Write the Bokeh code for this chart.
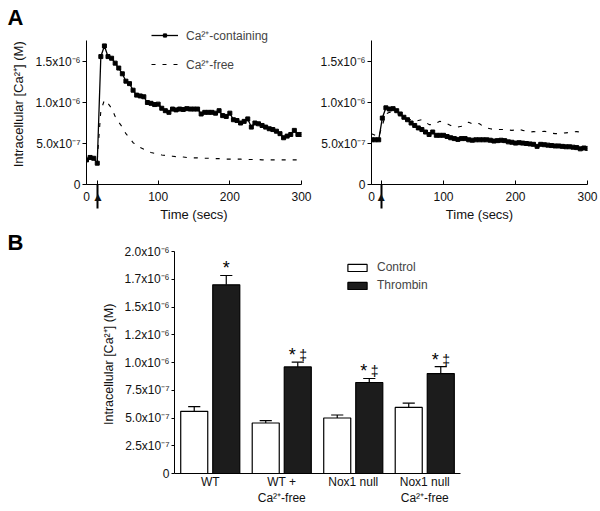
from bokeh.plotting import figure
from bokeh.models import ColumnDataSource, FixedTicker, Legend, LegendItem
from bokeh.layouts import column, row
from bokeh.embed import file_html
from bokeh.resources import INLINE

FONT = "Liberation Sans"

# ---------------- data (concentrations in units of 1e-6 M) ----------------
time_s = list(range(0, 301, 5))

wt_ca_containing = [0.30, 0.33, 0.32, 0.26, 1.56, 1.69, 1.56, 1.54, 1.48, 1.42,
                    1.35, 1.26, 1.23, 1.15, 1.09, 1.08, 1.07, 1.00, 0.99, 0.975,
                    0.98, 0.93, 0.90, 0.88, 0.92, 0.91, 0.92, 0.915, 0.925, 0.92,
                    0.92, 0.92, 0.86, 0.88, 0.88, 0.88, 0.87, 0.90, 0.84, 0.83,
                    0.87, 0.79, 0.78, 0.75, 0.77, 0.80, 0.70, 0.75, 0.74, 0.72,
                    0.70, 0.68, 0.67, 0.65, 0.62, 0.57, 0.59, 0.61, 0.66, 0.61,
                    0.61]
wt_ca_free = [0.30, 0.31, 0.31, 0.30, 0.90, 1.03, 0.99, 0.93, 0.83, 0.76,
              0.70, 0.62, 0.57, 0.51, 0.48, 0.45, 0.43, 0.41, 0.39, 0.38,
              0.37, 0.36, 0.355, 0.35, 0.345, 0.34, 0.34, 0.335, 0.33, 0.33,
              0.325, 0.325, 0.32, 0.32, 0.32, 0.315, 0.315, 0.315, 0.31, 0.31,
              0.31, 0.31, 0.31, 0.31, 0.305, 0.305, 0.305, 0.305, 0.305, 0.30,
              0.30, 0.30, 0.30, 0.30, 0.30, 0.30, 0.30, 0.30, 0.30, 0.30,
              0.30]
nox_ca_containing = [0.545, 0.545, 0.545, 0.81, 0.935, 0.92, 0.925, 0.90, 0.86, 0.82,
                     0.79, 0.75, 0.72, 0.69, 0.67, 0.64, 0.61, 0.64, 0.60, 0.60,
                     0.60, 0.585, 0.57, 0.56, 0.55, 0.56, 0.56, 0.545, 0.54, 0.545,
                     0.545, 0.545, 0.545, 0.54, 0.53, 0.535, 0.54, 0.535, 0.52, 0.515,
                     0.505, 0.51, 0.505, 0.50, 0.495, 0.49, 0.465, 0.49, 0.485, 0.48,
                     0.475, 0.47, 0.47, 0.465, 0.46, 0.46, 0.455, 0.45, 0.435, 0.445,
                     0.44]
nox_ca_free = [0.62, 0.60, 0.58, 0.72, 0.86, 0.88, 0.88, 0.87, 0.84, 0.82,
               0.80, 0.79, 0.77, 0.78, 0.79, 0.76, 0.73, 0.73, 0.75, 0.77,
               0.75, 0.74, 0.72, 0.70, 0.70, 0.71, 0.74, 0.76, 0.74, 0.75,
               0.74, 0.71, 0.69, 0.68, 0.67, 0.67, 0.67, 0.67, 0.665, 0.66,
               0.665, 0.675, 0.66, 0.65, 0.64, 0.645, 0.64, 0.645, 0.65, 0.64,
               0.625, 0.62, 0.62, 0.625, 0.63, 0.635, 0.64, 0.645, 0.64]
stim_time_left = 16     # thrombin addition (arrow)
stim_time_right = 13.5

top_ticks = [0, 0.5, 1.0, 1.5]
top_tick_labels = ["0", "5.0x10⁻⁷", "1.0x10⁻⁶", "1.5x10⁻⁶"]
time_ticks = [0, 100, 200, 300]

groups = ["WT", "WT +\nCa²⁺-free", "Nox1 null", "Nox1 null\nCa²⁺-free"]
control_mean = [0.56, 0.455, 0.50, 0.595]
control_sem = [0.042, 0.021, 0.027, 0.039]
thrombin_mean = [1.70, 0.96, 0.82, 0.90]
thrombin_sem = [0.084, 0.043, 0.036, 0.063]
star_marks = ["*", "*", "*", "*"]
dagger_marks = ["", "‡", "‡", "‡"]

bar_ticks = [0, 0.25, 0.5, 0.75, 1.0, 1.25, 1.5, 1.75, 2.0]
bar_tick_labels = ["0", "2.5x10⁻⁷", "5.0x10⁻⁷", "7.5x10⁻⁷", "1.0x10⁻⁶",
                   "1.2x10⁻⁶", "1.5x10⁻⁶", "1.7x10⁻⁶", "2.0x10⁻⁶"]


def base_style(p):
    p.outline_line_color = None
    p.grid.grid_line_color = None
    p.background_fill_color = "white"
    p.border_fill_color = "white"
    for ax in p.axis:
        ax.axis_line_color = "black"
        ax.axis_line_width = 1
        ax.major_tick_line_color = "black"
        ax.minor_tick_line_color = None
        ax.major_label_text_font = FONT
        ax.major_label_text_font_size = "12px"
        ax.major_label_text_color = "#111111"
        ax.axis_label_text_font = FONT
        ax.axis_label_text_font_size = "13px"
        ax.axis_label_text_font_style = "normal"
        ax.axis_label_text_color = "#111111"


def panel_letter(p, letter, offset, standoff):
    p.title.text = letter
    p.title.align = "left"
    p.title.offset = offset
    p.title.standoff = standoff
    p.title.vertical_align = "bottom"
    p.title.text_font = FONT
    p.title.text_font_size = "22px"
    p.title.text_font_style = "bold"
    p.title.text_color = "black"


def time_panel(width, left, right, solid, dashed, stim, ylabel):
    p = figure(width=width, height=226, x_range=(0, 300), y_range=(0, 2.0),
               output_backend="svg", toolbar_location=None,
               min_border_left=left, min_border_right=right,
               min_border_top=20, min_border_bottom=42)
    base_style(p)
    xa = p.xaxis[0]
    # stimulus arrow: shaft = long minor tick, head = "▲" tick label
    xa.ticker = FixedTicker(ticks=time_ticks + [stim], minor_ticks=[stim])
    xa.major_label_overrides = {stim: "▲"}
    xa.major_tick_in = 4
    xa.major_tick_out = 0
    xa.minor_tick_in = 0
    xa.minor_tick_out = 24
    xa.minor_tick_line_color = "black"
    xa.minor_tick_line_width = 2
    xa.major_label_standoff = -19
    xa.axis_label = "Time (secs)"
    xa.axis_label_standoff = 0
    ya = p.yaxis[0]
    ya.ticker = FixedTicker(ticks=top_ticks)
    ya.major_label_overrides = dict(zip(top_ticks, top_tick_labels))
    ya.major_tick_in = 0
    ya.major_tick_out = 4
    ya.major_label_standoff = 2
    ya.bounds = (0, 1.76)
    if ylabel:
        ya.axis_label = ylabel
        ya.axis_label_standoff = 7

    src_s = ColumnDataSource(dict(t=time_s[:len(solid)], v=solid))
    src_d = ColumnDataSource(dict(t=time_s[:len(dashed)], v=dashed))
    r_dash = p.line("t", "v", source=src_d, line_color="black", line_width=1.1,
                    line_dash="4 7")
    r_line = p.line("t", "v", source=src_s, line_color="black", line_width=1.3)
    r_pts = p.scatter("t", "v", source=src_s, marker="square", size=4,
                      fill_color="black", line_color="black")
    return p, r_line, r_pts, r_dash


p1, l1, s1, d1 = time_panel(313, 86, 12, wt_ca_containing, wt_ca_free,
                            stim_time_left, "Intracellular [Ca²⁺]  (M)")
p2, l2, s2, d2 = time_panel(287, 58, 13, nox_ca_containing, nox_ca_free,
                            stim_time_right, None)
panel_letter(p1, "A", -79, -19)

leg1 = Legend(items=[LegendItem(label="Ca²⁺-containing", renderers=[l1, s1]),
                     LegendItem(label="Ca²⁺-free", renderers=[d1])],
              location=(65, 110), orientation="vertical",
              glyph_width=27, glyph_height=8, label_height=20, spacing=9,
              padding=0, margin=0, label_standoff=8,
              label_text_font=FONT, label_text_font_size="12px",
              border_line_color=None, background_fill_alpha=0)
p1.add_layout(leg1)

# ---------------- bar chart ----------------
n = len(groups)
centers = [i + 0.5 for i in range(n)]
off = 0.224
bw = 0.378
ctrl = ColumnDataSource(dict(x=[c - off for c in centers], top=control_mean,
                             err=[m + s for m, s in zip(control_mean, control_sem)]))
thr = ColumnDataSource(dict(x=[c + off for c in centers], top=thrombin_mean,
                            err=[m + s for m, s in zip(thrombin_mean, thrombin_sem)]))

p3 = figure(width=600, height=285, x_range=(0, 4), y_range=(0, 2.0),
            output_backend="svg", toolbar_location=None,
            min_border_left=174, min_border_right=140,
            min_border_top=25, min_border_bottom=38)
base_style(p3)
panel_letter(p3, "B", -167, -7)
xa = p3.xaxis[0]
xa.ticker = FixedTicker(ticks=centers)
xa.major_label_overrides = dict(zip(centers, groups))
xa.major_tick_in = 0
xa.major_tick_out = 0
xa.major_label_standoff = 1
ya = p3.yaxis[0]
ya.ticker = FixedTicker(ticks=bar_ticks)
ya.major_label_overrides = dict(zip(bar_ticks, bar_tick_labels))
ya.major_tick_in = 0
ya.major_tick_out = 3
ya.major_label_standoff = 2
ya.axis_label = "Intracellular [Ca²⁺]  (M)"
ya.axis_label_standoff = 6
ya.axis_label_text_font_size = "12.5px"

cap = 0.085
for src in (ctrl, thr):
    p3.segment(x0="x", y0="top", x1="x", y1="err", source=src,
               line_color="black", line_width=1.2)
    xs = src.data["x"]
    cap_src = ColumnDataSource(dict(x0=[x - cap for x in xs], x1=[x + cap for x in xs],
                                    y=src.data["err"]))
    p3.segment(x0="x0", y0="y", x1="x1", y1="y", source=cap_src,
               line_color="black", line_width=1.2)

r_ctrl = p3.vbar(x="x", top="top", bottom=0, width=bw, source=ctrl,
                 fill_color="white", line_color="black", line_width=1.2)
r_thr = p3.vbar(x="x", top="top", bottom=0, width=bw, source=thr,
                fill_color="#1c1c1c", line_color="black", line_width=1.2)

ann = ColumnDataSource(dict(x=thr.data["x"], y=thr.data["err"],
                            star=star_marks, dag=dagger_marks,
                            sx=[0 if d == "" else -5.5 for d in dagger_marks]))
p3.text(x="x", y="y", text="star", source=ann, x_offset="sx", y_offset=-7,
        text_align="center", text_baseline="alphabetic",
        text_font=dict(value=FONT), text_font_size="18px", text_color="black")
p3.text(x="x", y="y", text="dag", source=ann, x_offset=5.5, y_offset=-7,
        text_align="center", text_baseline="alphabetic",
        text_font=dict(value=FONT), text_font_size="14px", text_color="black")

leg3 = Legend(items=[LegendItem(label="Control", renderers=[r_ctrl]),
                     LegendItem(label="Thrombin", renderers=[r_thr])],
              location=(171, 179), orientation="vertical",
              glyph_width=24, glyph_height=9, label_height=18, spacing=-2,
              padding=0, margin=0, label_standoff=8,
              label_text_font=FONT, label_text_font_size="12px",
              border_line_color=None, background_fill_alpha=0)
p3.add_layout(leg3)

layout = column(row(p1, p2), p3)
open("out.html", "w").write(file_html(layout, INLINE))
